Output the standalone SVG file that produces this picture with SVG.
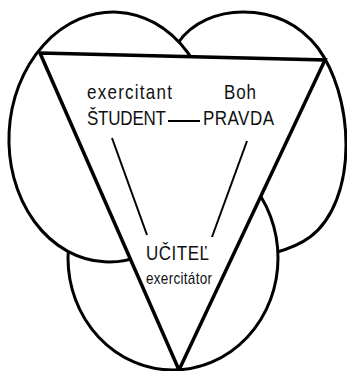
<svg xmlns="http://www.w3.org/2000/svg" width="347" height="371" viewBox="0 0 347 371">
<style>
.oval{fill:#fff;stroke:#000;stroke-width:3}
.tri{fill:#fff;stroke:#000;stroke-width:3.5;stroke-linejoin:miter}
.conn{stroke:#000;stroke-width:2;fill:none}
.t{font-family:"Liberation Sans",Arial,sans-serif;font-size:17px;fill:#111}
.s{font-family:"Liberation Sans",Arial,sans-serif;font-size:13.5px;fill:#111}
</style>
<rect width="347" height="371" fill="#fff"/>
<g id="oval-right">
<path class="oval" d="M178,43 C192,22 218,12 243,12 C275,12 300,25 318,48 C334,70 346,105 346,145 C346,185 333,220 310,237 C298,246 285,250 274,253 L240,230 L182,62 Z"/>
</g>
<g id="oval-bottom">
<ellipse class="oval" cx="173" cy="258" rx="105" ry="112"/>
</g>
<g id="oval-left">
<ellipse class="oval" cx="111" cy="137" rx="102" ry="125" transform="rotate(3,111,137)"/>
</g>
<g id="triangle">
<polygon class="tri" points="40,53 325,60 179,370"/>
</g>
<g id="connectors">
<line class="conn" x1="168" y1="121" x2="200" y2="121"/>
<line class="conn" x1="112" y1="138" x2="147" y2="235"/>
<line class="conn" x1="247" y1="141" x2="212" y2="237"/>
</g>
<g id="node-student">
<text class="t" transform="translate(87,99) scale(1,1.22)" textLength="85" lengthAdjust="spacing">exercitant</text>
<text class="t" transform="translate(87,125) scale(1,1.22)" textLength="79" lengthAdjust="spacing">ŠTUDENT</text>
</g>
<g id="node-pravda">
<text class="t" transform="translate(224,99) scale(1,1.22)" textLength="32" lengthAdjust="spacing">Boh</text>
<text class="t" transform="translate(203,125) scale(1,1.22)" textLength="71" lengthAdjust="spacing">PRAVDA</text>
</g>
<g id="node-ucitel">
<text class="t" transform="translate(146,260) scale(1,1.22)" textLength="63" lengthAdjust="spacing">UČITEĽ</text>
<text class="s" transform="translate(146,284) scale(1,1.18)" textLength="66" lengthAdjust="spacing">exercitátor</text>
</g>
</svg>
